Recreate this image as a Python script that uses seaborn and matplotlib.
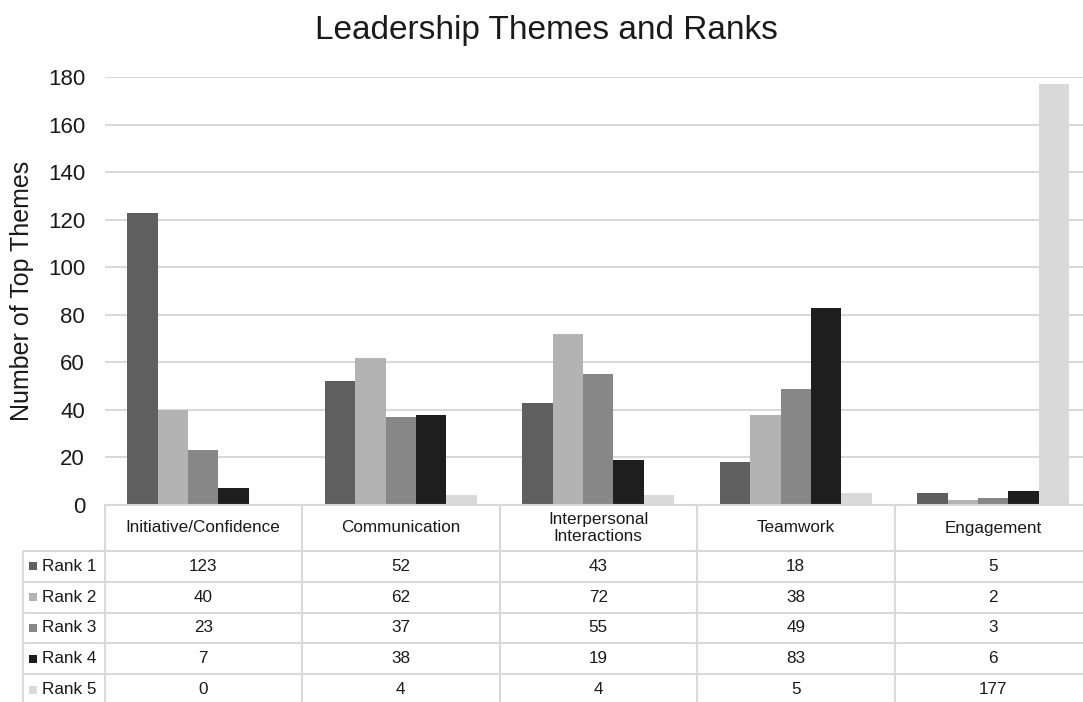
import numpy as np
import pandas as pd
import seaborn as sns
import matplotlib.pyplot as plt
from matplotlib.patches import Rectangle

# Data
categories = ["Initiative/Confidence", "Communication", "Interpersonal\nInteractions",
              "Teamwork", "Engagement"]
ranks = ["Rank 1", "Rank 2", "Rank 3", "Rank 4", "Rank 5"]
rank1 = [123, 52, 43, 18, 5]
rank2 = [40, 62, 72, 38, 2]
rank3 = [23, 37, 55, 49, 3]
rank4 = [7, 38, 19, 83, 6]
rank5 = [0, 4, 4, 5, 177]
yticks = [0, 20, 40, 60, 80, 100, 120, 140, 160, 180]

series = [rank1, rank2, rank3, rank4, rank5]
colors = ["#5f5f5f", "#b3b3b3", "#878787", "#1e1e1e", "#d9d9d9"]

rows = []
for rk, vals in zip(ranks, series):
    for cat, v in zip(categories, vals):
        rows.append({"Theme": cat, "Rank": rk, "Count": v})
df = pd.DataFrame(rows)

sns.set_theme(style="white")
plt.rcParams['font.family'] = ['Liberation Sans', 'DejaVu Sans']

W, H = 1083, 702
fig = plt.figure(figsize=(W / 100, H / 100), dpi=100)

grid_c = "#d9d9d9"
line_w = 1.5

# Plot area geometry (pixels)
ax_left, ax_right = 104.5, 1092.0
ax_bottom, ax_top = 505.0, 77.3
ax = fig.add_axes([ax_left / W, (H - ax_bottom) / H,
                   (ax_right - ax_left) / W, (ax_bottom - ax_top) / H])

sns.barplot(data=df, x="Theme", y="Count", hue="Rank", order=categories,
            hue_order=ranks, palette=colors, width=0.77, gap=0,
            saturation=1, legend=False, errorbar=None, linewidth=0, ax=ax)

ax.set_xlim(-0.5, len(categories) - 0.5)
ax.set_ylim(0, 180)
ax.set_yticks(yticks)
ax.yaxis.grid(True, color=grid_c, linewidth=line_w)
ax.set_axisbelow(True)
for s in ["top", "right", "left"]:
    ax.spines[s].set_visible(False)
ax.spines["bottom"].set_color(grid_c)
ax.spines["bottom"].set_linewidth(line_w)
ax.set_xticks([])
ax.set_xlabel("")
ax.tick_params(axis="y", length=0, pad=14, labelsize=16, labelcolor="#1a1a1a")

ax.set_ylabel("Number of Top Themes", fontsize=18, color="#1a1a1a")
ax.yaxis.set_label_coords((22 - ax_left) / (ax_right - ax_left), 0.5)
ax.yaxis.label.set_va("center")

fig.suptitle("Leadership Themes and Ranks", x=546.5 / W, y=1 - 30 / H,
             va="center", fontsize=24, color="#1a1a1a")

# Data table below the plot
tab_h = H - ax_bottom
tax = fig.add_axes([ax_left / W, 0, (ax_right - ax_left) / W, tab_h / H])
tax.set_xlim(-0.5, len(categories) - 0.5)
tax.set_ylim(tab_h, 0)
tax.axis("off")

px = (ax_right - ax_left) / len(categories)  # pixels per category unit
header_h = 46.0
row_h = 30.8
label_left = -0.5 - (ax_left - 23) / px
fs = 12.3

line_kw = dict(color=grid_c, linewidth=line_w, clip_on=False, solid_capstyle="butt")
for i in range(len(categories) + 1):
    tax.plot([i - 0.5, i - 0.5], [0, tab_h + 5], **line_kw)
tax.plot([label_left, label_left], [header_h, tab_h + 5], **line_kw)
for k in range(len(ranks) + 1):
    y = header_h + k * row_h
    tax.plot([label_left, len(categories) - 0.5], [y, y], **line_kw)

txt_c = "#1a1a1a"
for i, cat in enumerate(categories):
    tax.text(i, header_h / 2, cat, ha="center", va="center", fontsize=fs,
             color=txt_c, linespacing=1.1, clip_on=False)

for k, (rk, vals, col) in enumerate(zip(ranks, series, colors)):
    yc = header_h + (k + 0.5) * row_h
    sq = 8.0
    tax.add_patch(Rectangle((label_left + 6 / px, yc - sq / 2), sq / px, sq,
                            facecolor=col, edgecolor="none", clip_on=False))
    tax.text(label_left + 19 / px, yc, rk, ha="left", va="center",
             fontsize=fs, color=txt_c, clip_on=False)
    for i, v in enumerate(vals):
        tax.text(i, yc, str(v), ha="center", va="center", fontsize=fs,
                 color=txt_c, clip_on=False)

fig.savefig("out.png", dpi=100)
